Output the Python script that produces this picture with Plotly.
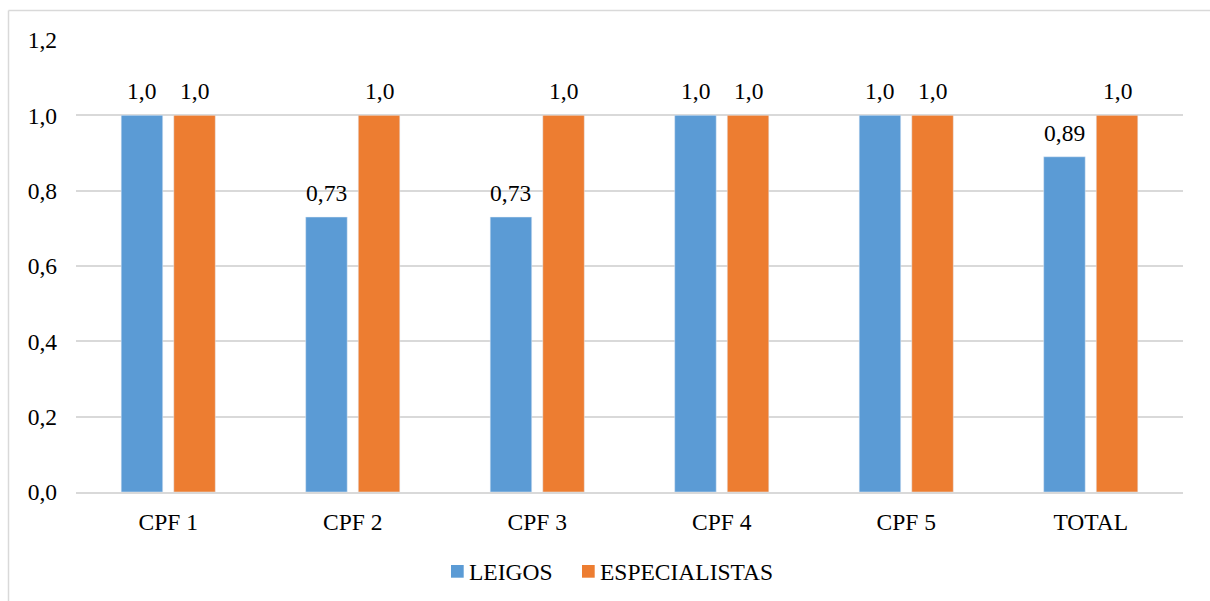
import plotly.graph_objects as go

categories = ["CPF 1", "CPF 2", "CPF 3", "CPF 4", "CPF 5", "TOTAL"]
series_names = ["LEIGOS", "ESPECIALISTAS"]
leigos = [1.0, 0.73, 0.73, 1.0, 1.0, 0.89]
especialistas = [1.0, 1.0, 1.0, 1.0, 1.0, 1.0]
y_ticks = [0.0, 0.2, 0.4, 0.6, 0.8, 1.0, 1.2]

BLUE = "#5B9BD5"
ORANGE = "#ED7D31"
GRID = "#D9D9D9"
FONT = "Liberation Serif"
FS = 23.5


def label(v):
    # whole values shown with one decimal, others with two (comma decimal)
    s = f"{v:.1f}" if abs(v - round(v)) < 1e-9 else f"{v:.2f}"
    return s.replace(".", ",")


W, H = 1210, 601
L, R, T, B = 76, 27, 40, 109
pw, ph = W - L - R, H - T - B
BARGAP, GROUPGAP = 0.43, 0.21


def px_x(x):
    return (x - L) / pw


def px_y(y):
    return 1 - (y - T) / ph


fig = go.Figure()
fig.add_trace(go.Bar(name=series_names[0], x=categories, y=leigos, marker_color=BLUE))
fig.add_trace(go.Bar(name=series_names[1], x=categories, y=especialistas, marker_color=ORANGE))

# value labels above each bar, offset to the bar's slot within the group
slot = pw / len(categories) * (1 - BARGAP) / 2
for series, sign in ((leigos, -1), (especialistas, 1)):
    for cat, v in zip(categories, series):
        fig.add_annotation(x=cat, y=v, text=label(v), showarrow=False,
                           xshift=sign * slot / 2, yshift=9, yanchor="bottom",
                           font=dict(family=FONT, size=FS, color="#000000"))

# legend row: colour square followed by series name
legend_items = [(series_names[0], BLUE, 451), (series_names[1], ORANGE, 582)]
for name, color, x0 in legend_items:
    fig.add_shape(type="rect", xref="paper", yref="paper",
                  x0=px_x(x0), x1=px_x(x0 + 12.7), y0=px_y(577.7), y1=px_y(565),
                  fillcolor=color, line=dict(width=0))
    fig.add_annotation(xref="paper", yref="paper", x=px_x(x0 + 17), y=px_y(572),
                       xanchor="left", yanchor="middle", text=name, showarrow=False,
                       borderpad=0, font=dict(family=FONT, size=FS, color="#000000"))

# outer chart frame (left and top edges visible)
fig.add_shape(type="line", xref="paper", yref="paper",
              x0=px_x(8.5), x1=px_x(8.5), y0=px_y(10.5), y1=px_y(620),
              line=dict(color=GRID, width=1.5))
fig.add_shape(type="line", xref="paper", yref="paper",
              x0=px_x(8.5), x1=px_x(1230), y0=px_y(10.5), y1=px_y(10.5),
              line=dict(color=GRID, width=1.5))

fig.update_layout(
    width=W, height=H,
    margin=dict(l=L, r=R, t=T, b=B, pad=0),
    barmode="group", bargap=BARGAP, bargroupgap=GROUPGAP,
    separators=",.",
    plot_bgcolor="white", paper_bgcolor="white",
    font=dict(family=FONT, size=FS, color="#000000"),
    showlegend=False,
)
fig.update_xaxes(showgrid=False, showline=True, linecolor=GRID, linewidth=1.5,
                 ticks="", tickfont=dict(family=FONT, size=FS, color="#000000"),
                 ticklabelstandoff=8)
fig.update_yaxes(range=[0, 1.2], tickvals=y_ticks, tickformat=".1f",
                 showgrid=True, gridcolor=GRID, gridwidth=1.5,
                 zeroline=False, showline=False, ticks="",
                 tickfont=dict(family=FONT, size=FS, color="#000000"),
                 ticklabelstandoff=18)

fig.write_html("out.html")
